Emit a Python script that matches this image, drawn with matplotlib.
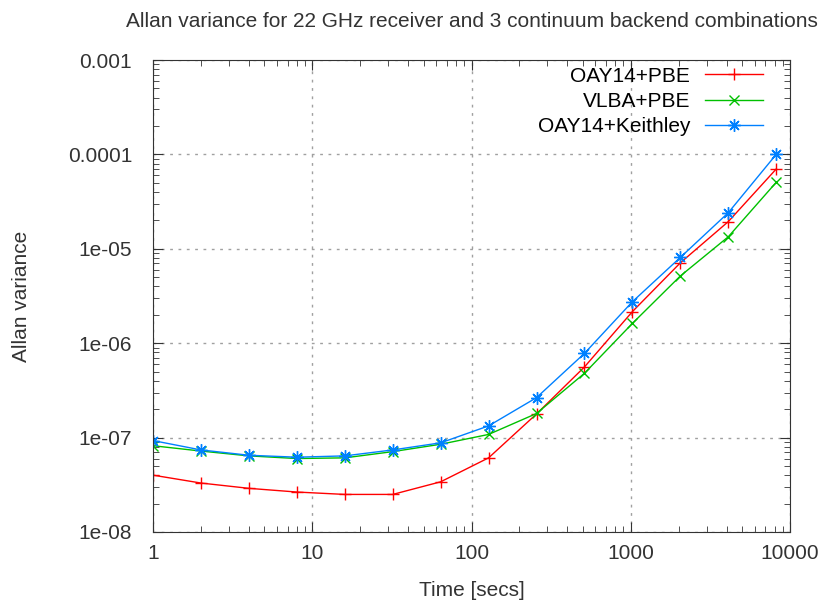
import numpy as np
import matplotlib
matplotlib.use('Agg')
import matplotlib.pyplot as plt
from matplotlib.ticker import FixedLocator, FixedFormatter, LogLocator, NullFormatter

plt.rcParams['font.family'] = ['Liberation Sans', 'DejaVu Sans']

# integration times (s)
times = [1, 2, 4, 8, 16, 32, 64, 128, 256, 512, 1024, 2048, 4096, 8192]

oay14_pbe = [4.0e-8, 3.3e-8, 2.9e-8, 2.65e-8, 2.5e-8, 2.5e-8, 3.4e-8,
             6.1e-8, 1.78e-7, 5.6e-7, 2.16e-6, 7.1e-6, 1.94e-5, 7.0e-5]
vlba_pbe = [8.2e-8, 7.2e-8, 6.4e-8, 6.0e-8, 6.1e-8, 7.1e-8, 8.5e-8,
            1.08e-7, 1.8e-7, 4.8e-7, 1.62e-6, 5.15e-6, 1.34e-5, 5.06e-5]
oay14_keithley = [9.3e-8, 7.4e-8, 6.5e-8, 6.2e-8, 6.4e-8, 7.4e-8, 8.8e-8,
                  1.33e-7, 2.65e-7, 7.8e-7, 2.75e-6, 8.1e-6, 2.41e-5, 1.0e-4]

xticks = [1, 10, 100, 1000, 10000]
xlabels = ['1', '10', '100', '1000', '10000']
yticks = [1e-8, 1e-7, 1e-6, 1e-5, 1e-4, 1e-3]
ylabels = ['1e-08', '1e-07', '1e-06', '1e-05', '0.0001', '0.001']

fs = 15
txt = '#333333'

fig = plt.figure(figsize=(8.2, 6.02), dpi=100)
ax = fig.add_axes([0.1866, 0.1163, 0.7768, 0.784])

ax.plot(times, oay14_pbe, color='#ff0000', marker='+', ms=9, mew=1, lw=1, label='OAY14+PBE')
ax.plot(times, vlba_pbe, color='#00c000', marker='x', ms=7, mew=1, lw=1, label='VLBA+PBE')
ax.plot(times, oay14_keithley, color='#0080ff', marker=(8, 2, 0), ms=9, mew=1, lw=1, label='OAY14+Keithley')

ax.set_xscale('log')
ax.set_yscale('log')
ax.set_xlim(1, 10000)
ax.set_ylim(1e-8, 1e-3)

ax.xaxis.set_major_locator(FixedLocator(xticks))
ax.xaxis.set_major_formatter(FixedFormatter(xlabels))
ax.yaxis.set_major_locator(FixedLocator(yticks))
ax.yaxis.set_major_formatter(FixedFormatter(ylabels))
ax.xaxis.set_minor_locator(LogLocator(base=10, subs=np.arange(2, 10)))
ax.yaxis.set_minor_locator(LogLocator(base=10, subs=np.arange(2, 10)))
ax.xaxis.set_minor_formatter(NullFormatter())
ax.yaxis.set_minor_formatter(NullFormatter())

ax.tick_params(which='both', direction='in', top=True, right=True, labelsize=fs, colors=txt)
ax.tick_params(which='major', length=7)
ax.tick_params(which='minor', length=4)
ax.tick_params(axis='y', which='major', pad=15)
ax.tick_params(axis='x', which='major', pad=9)
for s in ax.spines.values():
    s.set_color('#333333')

ax.grid(True, which='major', color='#a0a0a0', linestyle=(0, (2, 4)), lw=1)

ax.set_title('Allan variance for 22 GHz receiver and 3 continuum backend combinations',
             fontsize=fs, pad=24, color=txt)
ax.set_xlabel('Time [secs]', fontsize=fs, color=txt, va='center')
ax.xaxis.set_label_coords(0.5, -0.123)
ax.set_ylabel('Allan variance', fontsize=fs, color=txt, va='center')
ax.yaxis.set_label_coords(-0.207, 0.5)

ax.legend(loc='upper right', bbox_to_anchor=(0.9576, 0.986), frameon=False,
          markerfirst=False, fontsize=fs, handlelength=2.8, labelspacing=0.3,
          borderaxespad=0, borderpad=0, handletextpad=0.7)

fig.savefig('out.png', dpi=100)
